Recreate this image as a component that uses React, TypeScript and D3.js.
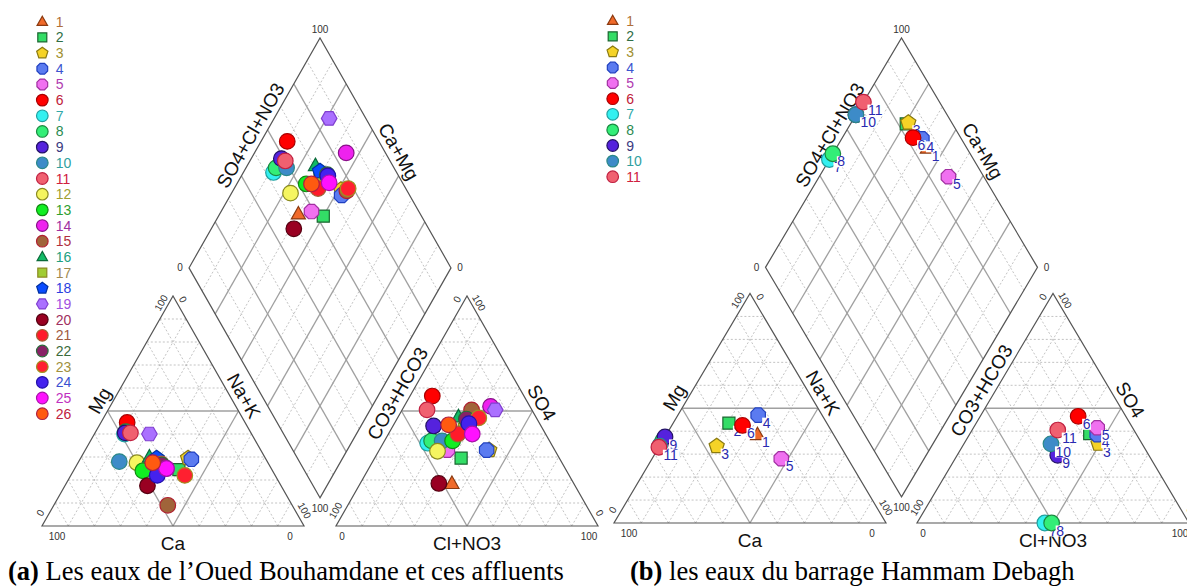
import React from "react";
import * as d3 from "d3";

// ---------- DATA ----------
const sampleIds = ["1","2","3","4","5","6","7","8","9","10","11","12","13","14","15","16","17","18","19","20","21","22","23","24","25","26"];
const shapes = ["triangle","square","pentagon","octagon","octagon","circle","circle","circle","circle","circle","circle","circle","circle","circle","circle","triangle","square","pentagon","hexagon","circle","circle","circle","circle","circle","circle","circle"];
const fills = ["#f06a2a","#33dd66","#f5d327","#5b7bf0","#f070f0","#ff0000","#33f0f0","#33ee77","#5522dd","#3d8bc8","#f06070","#f5f560","#11ee22","#ee22ee","#a0643a","#11bb66","#a0cc33","#0a4cff","#aa70ff","#990022","#ff1a2a","#882266","#ff2030","#4422ee","#ff11ff","#ff5a10"];
const strokes = ["#8b3a10","#1a6630","#8a7a10","#2040c0","#a030a0","#aa0000","#20a0a0","#1a8a40","#221166","#2a8888","#c02040","#8a8a20","#118811","#881188","#b02030","#0a6a3a","#8a8a20","#0030a0","#8040d0","#550011","#a06030","#2a6a3a","#a09020","#2211aa","#aa11aa","#b02040"];
const legendColors = ["#b0703a","#2f6e45","#a09030","#3a55d0","#b03ab0","#c0203a","#30a8a8","#2a8a50","#3a3a80","#30a0a0","#d02040","#a0a030","#30a030","#a030a0","#b03040","#20a080","#a08a50","#2a40e0","#a050e0","#a03060","#a05a40","#3a6a3a","#a09040","#3a50d0","#c030c0","#c02040"];

// (a) Oued Bouhamdane – percentages
const leftMg  = [25,24.5,29.5,29,25,45,40,41,40.5,28,40.5,27.5,24,25,9,30,28,29.5,40,17.5,27,26.5,22,22,25,27.5];
const leftNa  = [30,40,41,42.5,34.5,10,11.5,11.5,11.5,15.5,13.5,22.5,26.5,35,43.5,26,30,29,21,31.5,32,32.5,43.5,33,35,28.5];
const leftSO4 = [18.5,29.5,33,33,33,56.5,36,37,43.5,37,50.5,32.5,37,52,50.5,47.5,42,42,50.5,18.5,40,46.5,47,44.5,40,44];
const leftCl  = [35,33,42,41,26,8.5,17,18,15.5,22,9.5,22.5,26,33,26.5,23,28,29,35.5,30,26.5,26.5,31,28.5,32,21];

// (b) Barrage Hammam Debagh – percentages
const rightMg  = [38.5,43.5,33.5,47,28,42.5,34.5,36,37.5,33.5,33];
const rightNa  = [33.5,20.5,21,29.5,47.5,26,0,0,0,0,0];
const rightSO4 = [37,39,34.5,38.5,41.5,46.5,0,0,29.5,34.5,40.5];
const rightCl  = [48.5,44,49.5,47,45.5,36,47,49.5,37,32,31.5];

const cationLabels = ["Ca","Mg","Na+K"];
const anionLabels = ["Cl+NO3","CO3+HCO3","SO4"];
const diamondLabels = ["SO4+Cl+NO3","Ca+Mg"];
const captionTags = ["(a)","(b)"];
const captionTexts = [" Les eaux de l\u2019Oued Bouhamdane et ces affluents"," les eaux du barrage Hammam Debagh"];

const gridSteps = d3.range(1, 10).map((i) => i / 10);

const SANS = "Liberation Sans, Arial, Helvetica, sans-serif";
const SERIF = "Liberation Serif, 'Times New Roman', serif";

function polygon(n: number, r: number, rot: number) {
  const pts = d3.range(n).map((i) => {
    const a = rot + (i * 2 * Math.PI) / n;
    return [r * Math.cos(a), r * Math.sin(a)];
  });
  return "M" + pts.map((p) => p[0].toFixed(2) + "," + p[1].toFixed(2)).join("L") + "Z";
}

function markerPath(shape: string, r: number) {
  switch (shape) {
    case "triangle":
      return "M0," + (-r * 0.95) + "L" + r * 0.9 + "," + r * 0.65 + "L" + -r * 0.9 + "," + r * 0.65 + "Z";
    case "square":
      return d3.symbol(d3.symbolSquare, (1.55 * r) ** 2)() as string;
    case "pentagon":
      return polygon(5, r * 1.02, -Math.PI / 2);
    case "hexagon":
      return polygon(6, r, 0);
    case "octagon":
      return polygon(8, r, Math.PI / 8);
    default:
      return d3.symbol(d3.symbolCircle, Math.PI * r * r)() as string;
  }
}

function Marker({ i, x, y, r }: { i: number; x: number; y: number; r: number }) {
  return (
    <path
      d={markerPath(shapes[i], r)}
      transform={`translate(${x},${y})`}
      fill={fills[i]}
      stroke={strokes[i]}
      strokeWidth={1.2}
    />
  );
}

type Geo = { x0: number; base: number; s: number; h: number; g: number };

function Piper({ geo, mg, na, so4, cl, withLabels }: { geo: Geo; mg: number[]; na: number[]; so4: number[]; cl: number[]; withLabels: boolean }) {
  const { x0, base, s, h, g } = geo;
  const xC = d3.scaleLinear().domain([0, 1]).range([x0, x0 + s]);
  const xA = d3.scaleLinear().domain([0, 1]).range([x0 + s + g, x0 + 2 * s + g]);
  const yT = d3.scaleLinear().domain([0, 1]).range([base, base - h]);
  const dBx = x0 + s + g / 2;
  const dBy = base - (g * h) / s;
  const xD = d3.scaleLinear().domain([-1, 1]).range([dBx - s / 2, dBx + s / 2]);
  const yD = d3.scaleLinear().domain([0, 2]).range([dBy, dBy - 2 * h]);

  const cat = (m: number, n: number) => [xC(n + m / 2), yT(m)];
  const ani = (sf: number, c: number) => [xA(c + sf / 2), yT(sf)];
  const dia = (u: number, v: number) => [xD(u - v), yD(u + v)];

  const line = (p: number[], q: number[], key: string, solid: boolean) => (
    <line
      key={key}
      x1={p[0]} y1={p[1]} x2={q[0]} y2={q[1]}
      stroke={solid ? "#a0a0a0" : "#b4b4b4"}
      strokeWidth={solid ? 1.3 : 0.8}
      strokeDasharray={solid ? undefined : "2,2"}
    />
  );

  const grid: any[] = [];
  gridSteps.forEach((t, k) => {
    const solid = Math.abs(t - 0.5) < 1e-6;
    grid.push(line(cat(t, 0), cat(t, 1 - t), "cm" + k, solid));
    grid.push(line(cat(0, t), cat(1 - t, t), "cn" + k, solid));
    grid.push(line(cat(0, 1 - t), cat(1 - t, 0), "cc" + k, solid));
    grid.push(line(ani(t, 0), ani(t, 1 - t), "as" + k, solid));
    grid.push(line(ani(0, t), ani(1 - t, t), "ac" + k, solid));
    grid.push(line(ani(0, 1 - t), ani(1 - t, 0), "ah" + k, solid));
    const dsolid = (k + 1) % 2 === 0;
    grid.push(line(dia(t, 0), dia(t, 1), "du" + k, dsolid));
    grid.push(line(dia(0, t), dia(1, t), "dv" + k, dsolid));
  });

  const poly = (pts: number[][]) => pts.map((p) => p.join(",")).join(" ");
  const cBL = cat(0, 0), cBR = cat(0, 1), cT = cat(1, 0);
  const aBL = ani(0, 0), aBR = ani(0, 1), aT = ani(1, 0);
  const dB = dia(0, 0), dR = dia(1, 0), dT = dia(1, 1), dL = dia(0, 1);

  const angle = (Math.atan2(h, s / 2) * 180) / Math.PI;
  // position along edge p0->p1 at fraction f, offset off along normal (sign: -1 left side outward, +1 right side)
  const along = (p0: number[], p1: number[], f: number, off: number, side: number) => {
    const dx = p1[0] - p0[0], dy = p1[1] - p0[1];
    const L = Math.hypot(dx, dy);
    const nx = side < 0 ? dy / L : -dy / L;
    const ny = side < 0 ? -dx / L : dx / L;
    return [p0[0] + f * dx + nx * off, p0[1] + f * dy + ny * off];
  };

  const txt = (p: number[], str: string, rot: number, size: number, key: string, fill = "#111") => (
    <text
      key={key}
      transform={`translate(${p[0]},${p[1]}) rotate(${rot})`}
      textAnchor="middle"
      dominantBaseline="central"
      fontFamily={SANS}
      fontSize={size}
      fill={fill}
    >
      {str}
    </text>
  );

  const TS = 10;
  const tc = "#333";
  const ticks = [
    txt([cBL[0] + 15, base + 10], "100", 0, TS, "t1", tc),
    txt([cBR[0] - 14, base + 10], "0", 0, TS, "t2", tc),
    txt(along(cBL, cT, 0.04, 8, -1), "0", -angle, TS, "t3", tc),
    txt(along(cBL, cT, 0.955, 7, -1), "100", -angle, TS, "t4", tc),
    txt(along(cBR, cT, 0.97, 7, 1), "0", angle, TS, "t5", tc),
    txt(along(cBR, cT, 0.05, 8, 1), "100", angle, TS, "t6", tc),
    txt([aBL[0] + 6, base + 10], "0", 0, TS, "t7", tc),
    txt([aBR[0] - 9, base + 10], "100", 0, TS, "t8", tc),
    txt(along(aBL, aT, 0.05, 8, -1), "100", -angle, TS, "t9", tc),
    txt(along(aBL, aT, 0.97, 7, -1), "0", -angle, TS, "t10", tc),
    txt(along(aBR, aT, 0.955, 7, 1), "100", angle, TS, "t11", tc),
    txt(along(aBR, aT, 0.04, 8, 1), "0", angle, TS, "t12", tc),
    txt([dT[0], dT[1] - 8], "100", 0, TS, "t13", tc),
    txt([dL[0] - 9, dL[1]], "0", 0, TS, "t14", tc),
    txt([dR[0] + 9, dR[1]], "0", 0, TS, "t15", tc),
    txt([dB[0], dB[1] + 11], "100", 0, TS, "t16", tc),
  ];

  const AS = 19;
  const axisText = [
    txt([xC(0.5), base + 17], cationLabels[0], 0, AS, "a1"),
    txt(along(cBL, cT, 0.52, 12, -1), cationLabels[1], -angle, AS, "a2"),
    txt(along(cBR, cT, 0.54, 12, 1), cationLabels[2], angle, AS, "a3"),
    txt([xA(0.5), base + 17], anionLabels[0], 0, AS, "a4"),
    txt(along(aBL, aT, 0.55, 12, -1), anionLabels[1], -angle, AS, "a5"),
    txt(along(aBR, aT, 0.51, 12, 1), anionLabels[2], angle, AS, "a6"),
    txt(along(dL, dT, 0.55, 12, -1), diamondLabels[0], -angle, AS, "a7"),
    txt(along(dR, dT, 0.48, 12, 1), diamondLabels[1], angle, AS, "a8"),
  ];

  const n = mg.length;
  const R = 7.8;
  const lab = (p: number[], i: number, key: string) =>
    withLabels ? (
      <g key={key}>
        <rect x={p[0] + 4} y={p[1] + 2.5} width={sampleIds[i].length * 7.8 + 1} height={11} fill="#fff" />
        <text x={p[0] + 4.5} y={p[1] + 12.7} fontFamily={SANS} fontSize={14} fill="#2a2ab0">
          {sampleIds[i]}
        </text>
      </g>
    ) : null;

  const pts: any[] = [];
  for (let i = 0; i < n; i++) {
    const m = mg[i] / 100, nn = na[i] / 100, sf = so4[i] / 100, c = cl[i] / 100;
    const pc = cat(m, nn);
    const pa = ani(sf, c);
    const pd = dia(sf + c, 1 - nn);
    [pc, pa, pd].forEach((p, k) => {
      pts.push(<Marker key={"m" + i + "_" + k} i={i} x={p[0]} y={p[1]} r={R} />);
      pts.push(lab(p, i, "l" + i + "_" + k));
    });
  }

  return (
    <g>
      {grid}
      <polygon points={poly([cBL, cBR, cT])} fill="none" stroke="#555" strokeWidth={1.2} />
      <polygon points={poly([aBL, aBR, aT])} fill="none" stroke="#555" strokeWidth={1.2} />
      <polygon points={poly([dB, dR, dT, dL])} fill="none" stroke="#555" strokeWidth={1.2} />
      {ticks}
      {axisText}
      {pts}
    </g>
  );
}

function Legend({ n, x, y0, dy }: { n: number; x: number; y0: number; dy: number }) {
  return (
    <g>
      {d3.range(n).map((i) => (
        <g key={i}>
          <Marker i={i} x={x} y={y0 + i * dy} r={5.8} />
          <text x={x + 13.5} y={y0 + i * dy} dominantBaseline="central" fontFamily={SANS} fontSize={14} fill={legendColors[i]}>
            {sampleIds[i]}
          </text>
        </g>
      ))}
    </g>
  );
}

const leftGeo: Geo = { x0: 42, base: 526, s: 262, h: 230, g: 32 };
const rightGeo: Geo = { x0: 614, base: 523, s: 272, h: 229.5, g: 31 };

export default function App() {
  return (
    <svg
      width={1187}
      height={586}
      style={{ position: "absolute", left: 0, top: 0, background: "#fff" }}
    >
      <rect x={0} y={0} width={1187} height={586} fill="#fff" />
      <Legend n={26} x={42.3} y0={21.7} dy={15.68} />
      <Legend n={11} x={612.7} y0={20.7} dy={15.6} />
      <Piper geo={leftGeo} mg={leftMg} na={leftNa} so4={leftSO4} cl={leftCl} withLabels={false} />
      <Piper geo={rightGeo} mg={rightMg} na={rightNa} so4={rightSO4} cl={rightCl} withLabels={true} />
      <text x={8} y={580} fontFamily={SERIF} fontSize={26.5} fill="#000">
        <tspan fontWeight="bold">{captionTags[0]}</tspan>
        <tspan>{captionTexts[0]}</tspan>
      </text>
      <text x={630} y={580} fontFamily={SERIF} fontSize={26.5} fill="#000">
        <tspan fontWeight="bold">{captionTags[1]}</tspan>
        <tspan>{captionTexts[1]}</tspan>
      </text>
    </svg>
  );
}
